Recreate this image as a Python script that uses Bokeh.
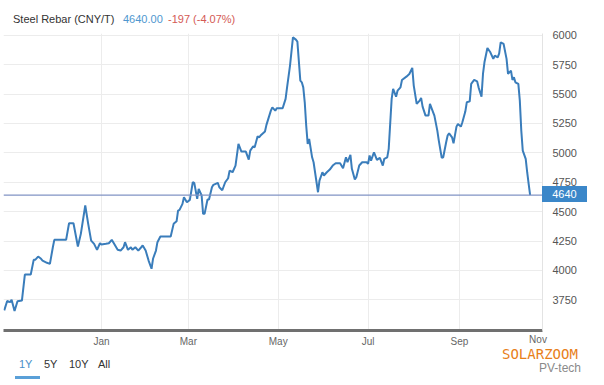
import pandas as pd
from bokeh.plotting import figure
from bokeh.layouts import column
from bokeh.models import Range1d, FixedTicker, DatetimeTickFormatter, Span, Div
from bokeh.embed import file_html
from bokeh.resources import INLINE

# ---------------- data ----------------
series_name = "Steel Rebar (CNY/T)"
last_value = 4640.00
last_change = -197
last_change_pct = -4.07

base_date = "2021-01-01"
day_offset = [
    -66, -64, -62, -61, -59, -57, -54, -52, -48, -46, -45, -43, -41, -40, -37, -35,
    -33, -32, -24, -22, -19, -16, -14, -11, -9, -7, -5, -3, -1,
    0, 3, 5, 7, 8, 11, 13, 15, 16, 18, 20, 21, 23, 25, 27, 28, 30, 32, 34, 35, 37,
    38, 40, 47, 49, 51, 52, 53, 55, 56, 58, 60, 62, 63, 65, 66, 68, 69, 70, 72, 73,
    75, 76, 79, 80, 82, 84, 86, 87, 89, 91, 93, 95, 98, 100, 101, 103, 104, 106, 107,
    108, 111, 112, 115, 116, 118, 119, 123, 125, 126, 128, 130, 132, 133, 135, 136,
    137, 138, 139, 140, 141, 143, 144, 145, 147, 148, 150, 151, 153, 155, 157, 159,
    162, 164, 166, 167, 169, 170, 172, 173, 175, 177, 180, 181, 182, 183, 185, 187,
    189, 191, 192, 194, 195, 197, 198, 200, 201, 203, 204, 207, 209, 211, 212, 214,
    216, 217, 218, 220, 222, 223, 226, 228, 229, 231, 232, 234, 235, 236, 238, 239,
    241, 242, 244, 245, 247, 248, 250, 251, 253, 255, 256, 258, 259, 260, 262, 264,
    266, 267, 269, 270, 271, 273, 275, 276, 278, 279, 280, 281, 283, 284, 285, 286,
    288, 289, 290, 291,
]
price = [
    3660, 3740, 3730, 3750, 3655, 3738, 3744, 3965, 3965, 4090, 4090, 4118, 4099, 4084, 4065, 4056,
    4197, 4260, 4260, 4401, 4401, 4203, 4311, 4552, 4396, 4254, 4226, 4175, 4231,
    4220, 4226, 4231, 4260, 4240, 4175, 4169, 4197, 4240, 4175, 4197, 4175, 4197, 4169, 4197, 4212, 4169, 4084, 4014, 4099, 4169,
    4240, 4288, 4288, 4396, 4418, 4509, 4515, 4566, 4622, 4580, 4600, 4750, 4745, 4609, 4694, 4637, 4481, 4481, 4603, 4603,
    4707, 4728, 4745, 4707, 4682, 4750, 4784, 4849, 4835, 4892, 5076, 5011, 5011, 4943, 5019, 5056, 5047, 5141, 5132,
    5147, 5181, 5238, 5359, 5387, 5359, 5379, 5379, 5459, 5557, 5742, 5982, 5963, 5946, 5614, 5600,
    5557, 5430, 5232, 5076, 5119, 4962, 4920, 4835, 4665, 4764, 4835, 4807, 4835, 4858, 4892, 4911,
    4911, 4869, 4962, 4920, 4983, 4864, 4773, 4792, 4892, 4920, 4920, 4906, 4977, 4934, 5005, 4940,
    4957, 4892, 4949, 4962, 5034, 5459, 5544, 5478, 5529, 5557, 5620, 5648, 5671, 5722, 5572, 5416,
    5444, 5467, 5393, 5317, 5317, 5416, 5317, 5189, 5104, 4957, 4962, 5090, 5147, 5166, 5132, 5081,
    5223, 5246, 5223, 5260, 5351, 5430, 5438, 5586, 5620, 5608, 5557, 5478, 5671, 5770, 5892, 5855,
    5799, 5827, 5812, 5846, 5940, 5926, 5799, 5671, 5699, 5620, 5642, 5600, 5586, 5444, 5189, 5019,
    4949, 4835, 4736, 4640,
]

y_ticks = [3750, 4000, 4250, 4500, 4750, 5000, 5250, 5500, 5750, 6000]
x_tick_dates = ["2021-01-01", "2021-03-01", "2021-05-01", "2021-07-01", "2021-09-01"]
last_tick_label = "Nov"
range_buttons = ["1Y", "5Y", "10Y", "All"]
watermark_title = "SOLARZOOM"
watermark_sub = "PV-tech"

# ---------------- layout ----------------
dates = pd.Timestamp(base_date) + pd.to_timedelta(day_offset, unit="D")
x_start = pd.Timestamp(base_date) - pd.Timedelta(days=66.5)
x_end = pd.Timestamp(base_date) + pd.Timedelta(days=299.4)
y_lo, y_hi = 3489, 6015

W = 600
HDR_H, FIG_H, FTR_H = 26, 328, 30          # stacked: header div, figure, footer div
FL, FR = 3, 542                            # frame left/right (px)
FT, FB = 7, 304                            # frame top/bottom inside figure (px)
FONT = "Liberation Sans"
CSS_FONT = "'Liberation Sans', Arial, sans-serif"

p = figure(width=W, height=FIG_H, x_axis_type="datetime", y_axis_location="right",
           x_range=Range1d(x_start, x_end), y_range=Range1d(y_lo, y_hi),
           toolbar_location=None, output_backend="svg", title=None,
           min_border_left=FL, min_border_right=W - FR, min_border_top=FT,
           min_border_bottom=FIG_H - FB, outline_line_color=None,
           background_fill_color="white", border_fill_color="white", margin=0)

# axes
yt = FixedTicker(ticks=y_ticks)
p.yaxis.ticker = yt
p.ygrid.ticker = yt
p.yaxis.axis_line_color = "#e3e3e3"
p.yaxis.major_tick_line_color = None
p.yaxis.minor_tick_line_color = None
p.yaxis.major_tick_out = 0
p.yaxis.major_tick_in = 0
p.yaxis.major_label_standoff = 10
p.yaxis.major_label_text_font = FONT
p.yaxis.major_label_text_font_size = "11px"
p.yaxis.major_label_text_color = "#555555"

xt = FixedTicker(ticks=[pd.Timestamp(d).value / 1e6 for d in x_tick_dates])
p.xaxis.ticker = xt
p.xgrid.ticker = xt
p.xaxis.formatter = DatetimeTickFormatter(months="%b", days="%b", years="%b")
p.xaxis.axis_line_color = "#707070"
p.xaxis.axis_line_width = 3
p.xaxis.major_tick_line_color = None
p.xaxis.minor_tick_line_color = None
p.xaxis.major_tick_out = 0
p.xaxis.major_tick_in = 0
p.xaxis.major_label_standoff = 5
p.xaxis.major_label_text_font = FONT
p.xaxis.major_label_text_font_size = "10px"
p.xaxis.major_label_text_color = "#666666"

p.xgrid.grid_line_color = "#ececec"
p.ygrid.grid_line_color = "#ececec"

# last value line
p.add_layout(Span(location=last_value, dimension="width", line_color="#8193c4", line_width=1.2))

# price line
p.line(dates, price, line_color="#3a7dbb", line_width=2)


def span(left, top, text, color="#333333", size=11, lh=None, extra=""):
    lh = size + 3 if lh is None else lh
    return (f'<span style="position:absolute;left:{left}px;top:{top}px;color:{color};'
            f'font-size:{size}px;line-height:{lh}px;white-space:nowrap;{extra}">{text}</span>')


# header (page y 0..26)
hdr_html = (f'<div style="position:relative;width:{W}px;height:{HDR_H}px;font-family:{CSS_FONT};">'
            + span(13, 12, series_name)
            + span(123, 12, f"{last_value:.2f}", color="#4f97cf")
            + span(168, 12, f"{last_change} ({last_change_pct:.2f}%)", color="#d45a55")
            + '</div>')
header = Div(text=hdr_html, width=W, height=HDR_H, margin=0)

# footer (page y 354..384); some items reach up over the figure's edges
top0 = HDR_H + FIG_H
ftr_html = (f'<div style="position:relative;width:{W}px;height:{FTR_H}px;font-family:{CSS_FONT};">'
            # month label justified at the right edge of the plot
            + span(529, 335 - top0, last_tick_label, color="#666666", size=10, lh=10,
                   extra="width:18px;text-align:center;")
            # last value tag on the price axis
            + (f'<span style="position:absolute;left:542px;top:{186 - top0}px;width:45px;height:16px;'
               f'background:#3b87c9;color:white;font-size:11px;line-height:16px;text-align:center;">'
               f'{last_value:.0f}</span>')
            # range buttons
            + "".join(span(bx, 357 - top0, t, color="#4a90c8" if i == 0 else "#333333")
                      for i, (t, bx) in enumerate(zip(range_buttons, [19, 44, 69, 98])))
            + f'<span style="position:absolute;left:15px;top:{376 - top0}px;width:25px;height:3px;background:#5aa0d8;"></span>'
            # watermark
            + span(502, 347 - top0, watermark_title, color="#e8801a", size=14, lh=14,
                   extra="font-family:'DejaVu Sans Mono',monospace;")
            + (f'<span style="position:absolute;right:{W - 581}px;top:{362 - top0}px;color:#8a8a8a;'
               f'font-size:12px;line-height:12px;">{watermark_sub}</span>')
            + '</div>')
footer = Div(text=ftr_html, width=W, height=FTR_H, margin=0)

layout = column(header, p, footer, spacing=0, margin=0)

open("out.html", "w").write(file_html(layout, INLINE))
